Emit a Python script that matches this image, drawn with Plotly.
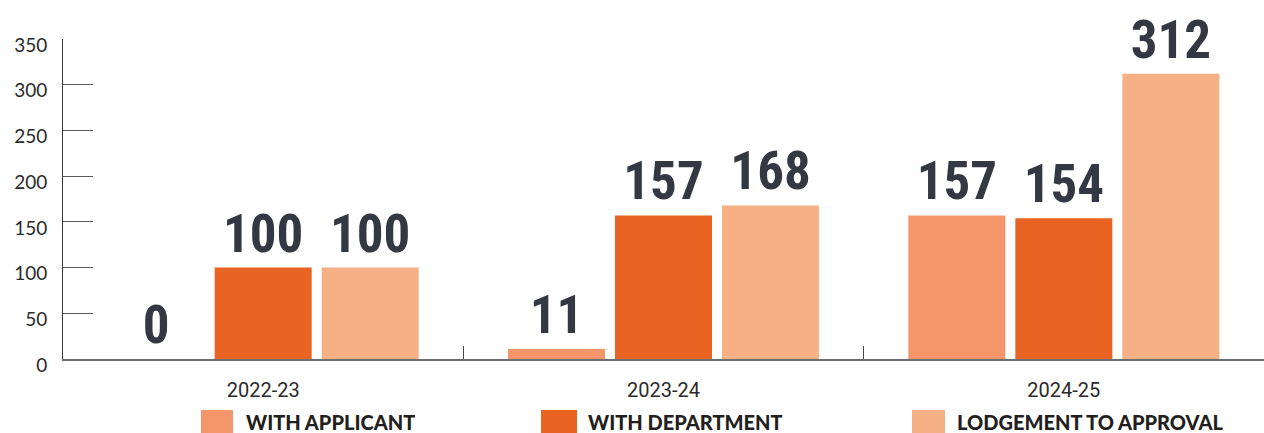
import plotly.graph_objects as go

# Financial years on the category axis
years = ["2022-23", "2023-24", "2024-25"]

# Days per stage for each year
with_applicant = [0, 11, 157]
with_department = [100, 157, 154]
lodgement_to_approval = [100, 168, 312]

series_names = ["WITH APPLICANT", "WITH DEPARTMENT", "LODGEMENT TO APPROVAL"]
series_values = [with_applicant, with_department, lodgement_to_approval]
series_colors = ["#F4956A", "#E96323", "#F6B086"]

y_ticks = [0, 50, 100, 150, 200, 250, 300, 350]

W, H = 1264, 433
M_L, M_R, M_T, M_B = 63, 0, 39, 74
PLOT_W = W - M_L - M_R
PLOT_H = H - M_T - M_B

VALUE_FONT = ("Roboto Condensed, Noto Sans ExtraCondensed, Noto Sans Condensed, "
              "Liberation Sans Narrow, DejaVu Sans Condensed")


def paper_x(px):
    return (px - M_L) / PLOT_W


def paper_y(py):
    return (H - M_B - py) / PLOT_H


fig = go.Figure()
for name, vals, color in zip(series_names, series_values, series_colors):
    fig.add_trace(go.Bar(
        x=years,
        y=vals,
        name=name,
        marker=dict(color=color, line=dict(width=0)),
        text=[str(v) for v in vals],
        textposition="outside",
        textfont=dict(family=VALUE_FONT, size=53, color="#333843", weight="bold"),
        constraintext="none",
        cliponaxis=False,
        showlegend=False,
    ))

# Legend drawn as large swatches with bold captions under the axis
legend_swatch_x = [(201, 233), (541, 577), (912, 945)]
legend_text_x = [245, 587, 956]
for (sx0, sx1), tx, name, color in zip(legend_swatch_x, legend_text_x, series_names, series_colors):
    fig.add_shape(type="rect", xref="paper", yref="paper",
                  x0=paper_x(sx0), x1=paper_x(sx1), y0=paper_y(410), y1=paper_y(433),
                  fillcolor=color, line=dict(width=0), layer="above")
    fig.add_annotation(xref="paper", yref="paper", x=paper_x(tx), y=paper_y(422),
                       text=name, showarrow=False, xanchor="left", yanchor="middle",
                       height=18, borderpad=0, valign="middle",
                       font=dict(family="Lato", size=20, color="#231F20", weight=900))

fig.update_layout(
    width=W, height=H,
    margin=dict(l=M_L, r=M_R, t=M_T, b=M_B, pad=0),
    paper_bgcolor="white", plot_bgcolor="white",
    barmode="group", bargap=0.198, bargroupgap=0.0935,
    showlegend=False,
)

fig.update_yaxes(
    range=[0, 350], tickvals=y_ticks, ticktext=[str(v) for v in y_ticks],
    showgrid=False, zeroline=False,
    showline=True, linecolor="#3a3a3a", linewidth=1,
    ticks="inside", ticklen=30, tickcolor="#5a5a5a", tickwidth=1,
    ticklabelstandoff=11, ticklabelshift=6,
    tickfont=dict(family="Lato", size=19, color="#2b2b2b"),
)

fig.update_xaxes(
    type="category", showgrid=False, zeroline=False,
    showline=True, linecolor="#6d6e71", linewidth=1.5,
    ticks="inside", tickson="boundaries", ticklen=13, tickcolor="#4a4a4a", tickwidth=1,
    ticklabelstandoff=12,
    tickfont=dict(family="Roboto", size=20, color="#2b2b2b"),
)

fig.write_html("out.html")
